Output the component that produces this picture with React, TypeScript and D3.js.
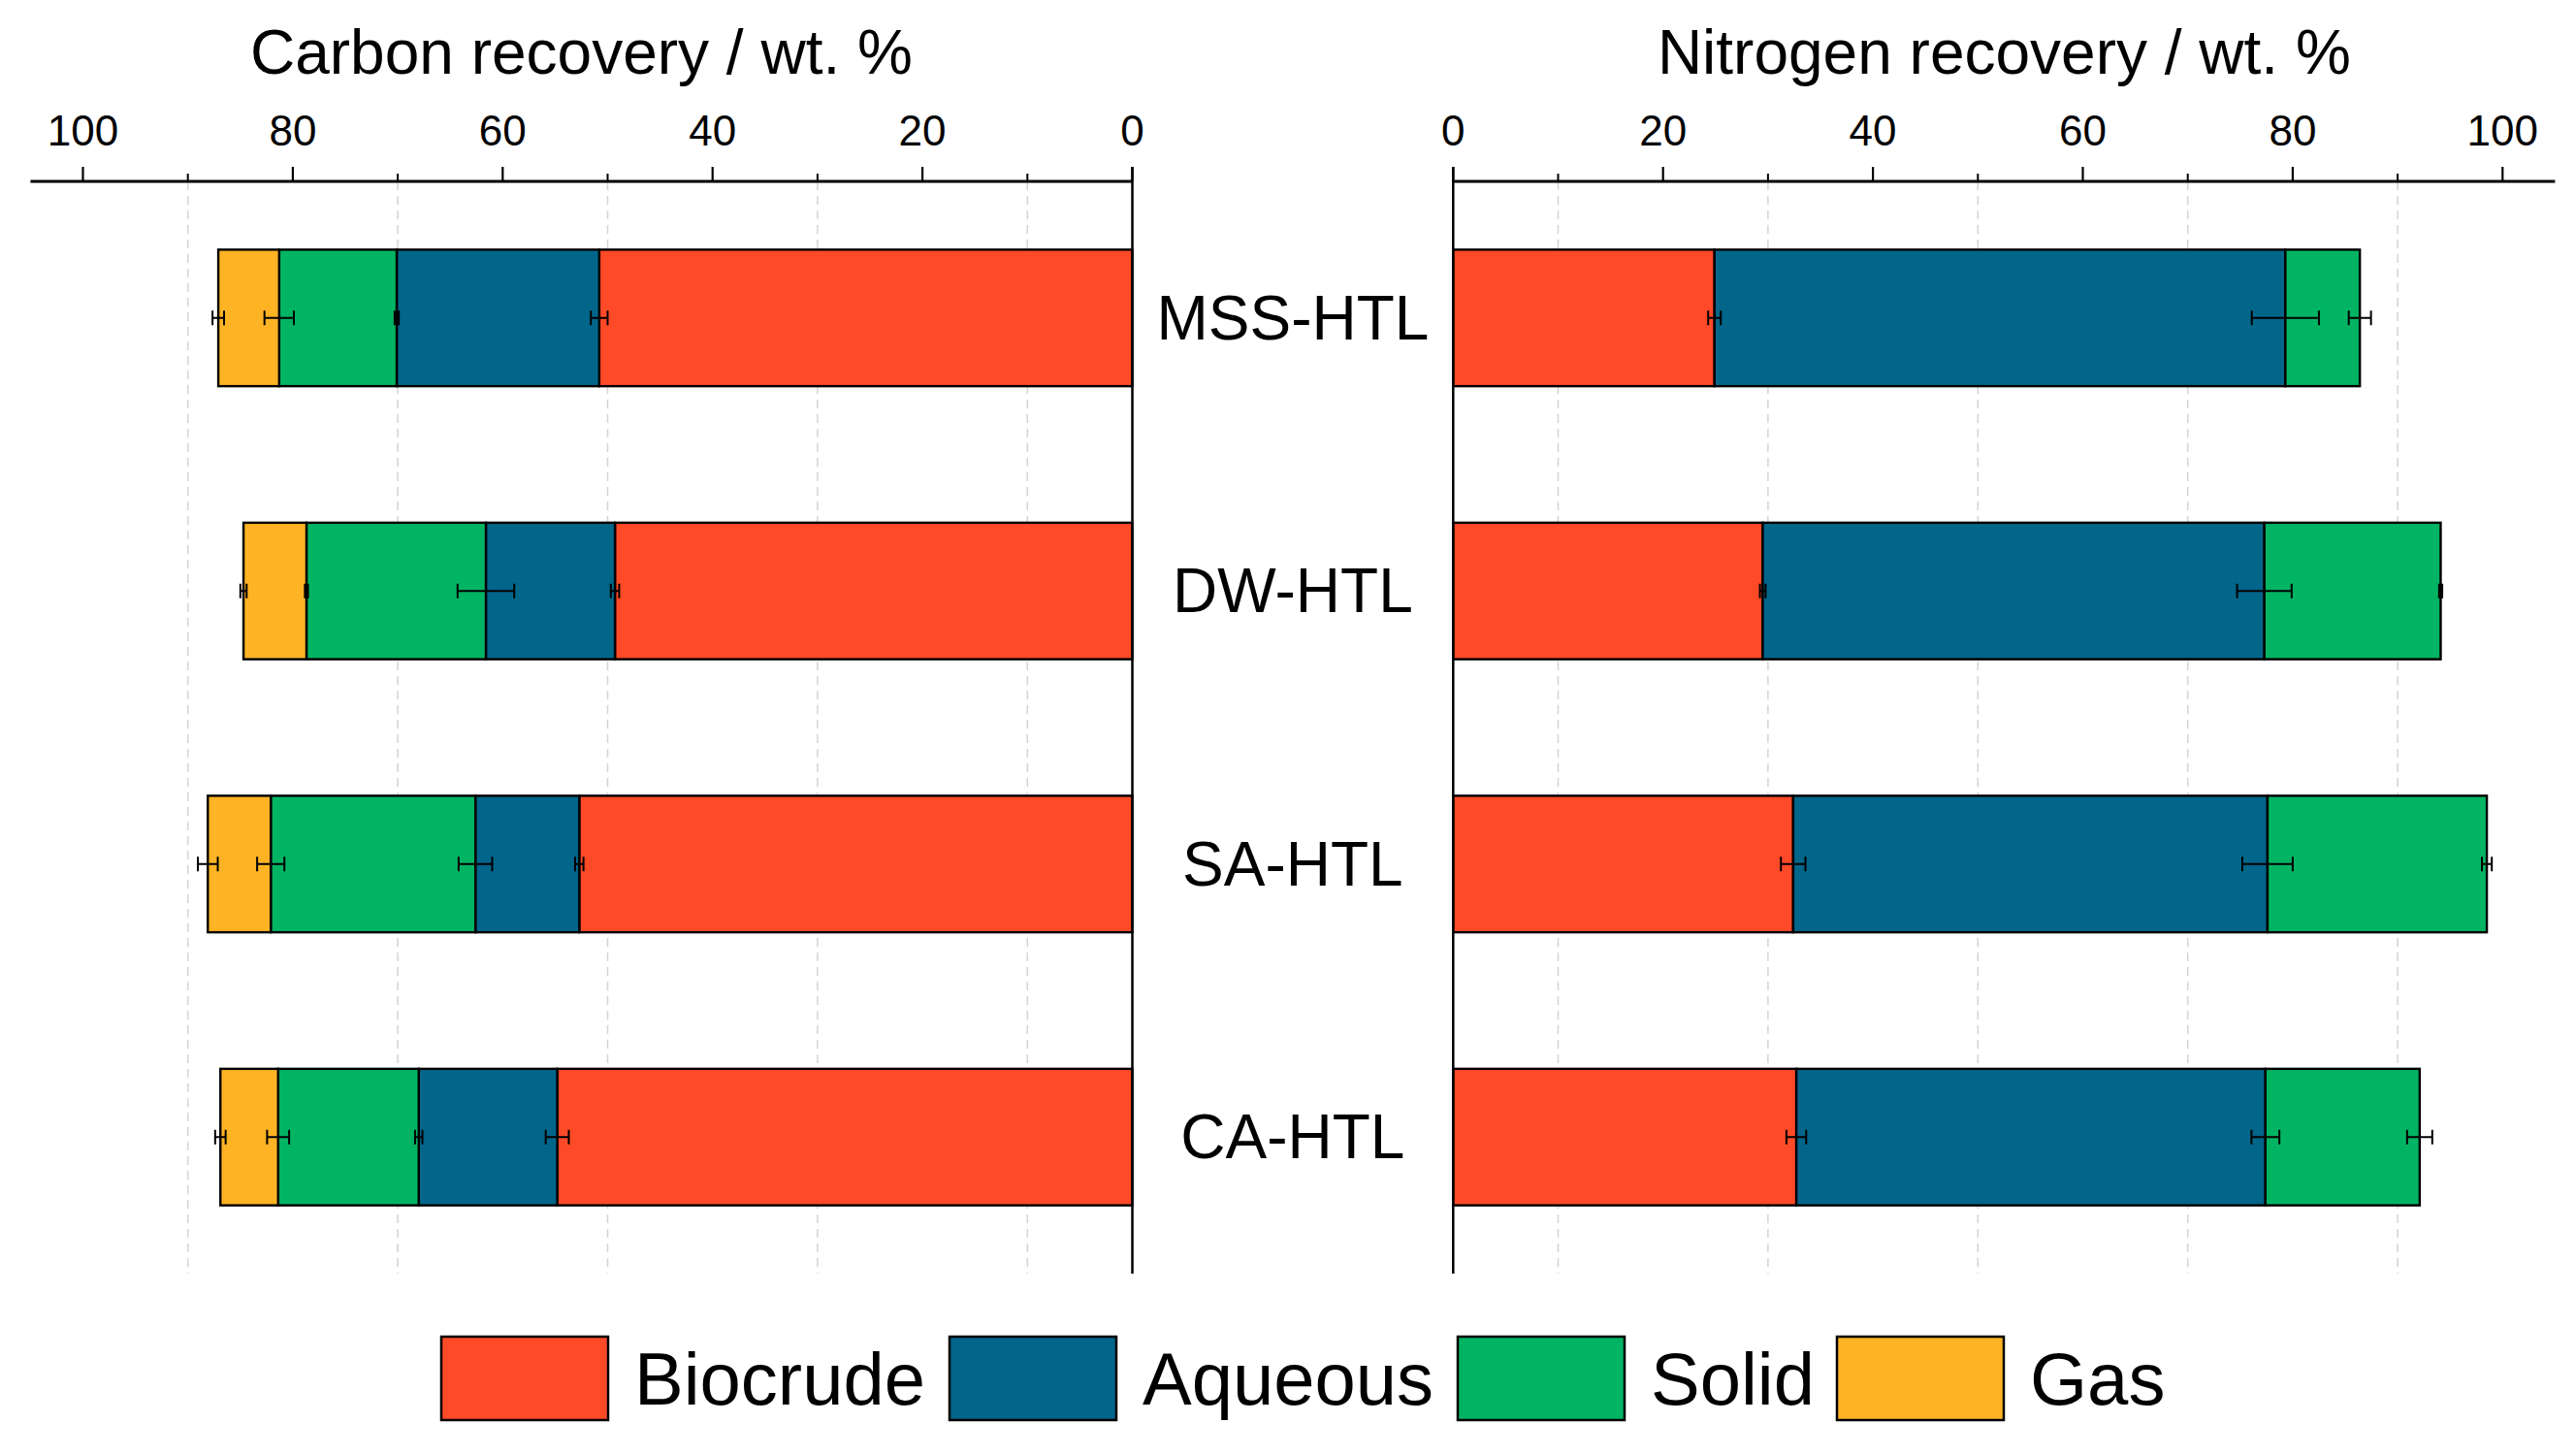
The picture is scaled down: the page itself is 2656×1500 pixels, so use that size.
import * as d3 from "d3";

const categories = ["MSS-HTL", "DW-HTL", "SA-HTL", "CA-HTL"];
const fractions = ["Biocrude", "Aqueous", "Solid", "Gas"];
const colors = ["#FF4A27", "#02658A", "#01B463", "#FEB324"];

// carbon recovery per fraction (wt. %)
const carbonBiocrude = [50.8, 49.3, 52.7, 54.8];
const carbonAqueous = [19.3, 12.3, 9.9, 13.2];
const carbonSolid = [11.2, 17.1, 19.5, 13.4];
const carbonGas = [5.8, 6.0, 6.0, 5.5];
const carbonErrBiocrude = [0.8, 0.4, 0.4, 1.1];
const carbonErrAqueous = [0.2, 2.7, 1.6, 0.35];
const carbonErrSolid = [1.4, 0.15, 1.3, 1.05];
const carbonErrGas = [0.55, 0.3, 0.95, 0.5];

// nitrogen recovery per fraction (wt. %)
const nitrogenBiocrude = [24.9, 29.5, 32.4, 32.7];
const nitrogenAqueous = [54.4, 47.8, 45.2, 44.7];
const nitrogenSolid = [7.1, 16.8, 20.9, 14.7];
const nitrogenErrBiocrude = [0.6, 0.27, 1.17, 0.94];
const nitrogenErrAqueous = [3.2, 2.6, 2.4, 1.33];
const nitrogenErrSolid = [1.06, 0.15, 0.47, 1.2];

const majorTicks = [0, 20, 40, 60, 80, 100];
const minorTicks = [10, 30, 50, 70, 90];

const W = 2656;
const H = 1500;
const FONT = "'Liberation Sans', Arial, sans-serif";
const axisY = 187;
const bottomY = 1313;

const y = d3.scaleBand<string>()
  .domain(categories)
  .range([axisY, bottomY])
  .paddingInner(0.5)
  .paddingOuter(0.25);

function Panel({ title, x, series, errors }: {
  title: string;
  x: d3.ScaleLinear<number, number>;
  series: number[][];
  errors: number[][];
}) {
  const rows = categories.map((c, i) => {
    const row: any = { cat: c };
    fractions.forEach((f, k) => { row[f] = series[k] ? series[k][i] : 0; });
    return row;
  });
  const keys = fractions.slice(0, series.length);
  const stacked = d3.stack<any>().keys(keys)(rows);
  const [r0, r1] = x.range();
  const left = Math.min(r0, r1);
  const right = Math.max(r0, r1);
  const bw = y.bandwidth();

  return (
    <g>
      {/* dashed grid at the minor ticks */}
      {minorTicks.map(t => (
        <line key={"g" + t} x1={x(t)} x2={x(t)} y1={axisY} y2={bottomY}
          stroke="#d4d4d4" strokeWidth={1.5} strokeDasharray="9,6" />
      ))}

      {stacked.map((layer, k) => (
        <g key={layer.key}>
          {layer.map((d, i) => (
            <rect key={i}
              x={Math.min(x(d[0]), x(d[1]))}
              width={Math.abs(x(d[1]) - x(d[0]))}
              y={y(categories[i])!}
              height={bw}
              fill={colors[k]} stroke="#000" strokeWidth={2.4} />
          ))}
        </g>
      ))}

      {/* error bars at each stack boundary */}
      {stacked.map((layer, k) => (
        <g key={"e" + layer.key}>
          {layer.map((d, i) => {
            const e = errors[k][i];
            const cy = y(categories[i])! + bw / 2;
            const xa = x(d[1] - e);
            const xb = x(d[1] + e);
            return (
              <g key={i} stroke="#000" strokeWidth={2}>
                <line x1={xa} x2={xb} y1={cy} y2={cy} />
                <line x1={xa} x2={xa} y1={cy - 7.5} y2={cy + 7.5} />
                <line x1={xb} x2={xb} y1={cy - 7.5} y2={cy + 7.5} />
              </g>
            );
          })}
        </g>
      ))}

      {/* top axis */}
      <line x1={left} x2={right} y1={axisY} y2={axisY} stroke="#000" strokeWidth={3} />
      <line x1={x(0)} x2={x(0)} y1={axisY - 15} y2={bottomY} stroke="#000" strokeWidth={2.5} />
      {majorTicks.map(t => (
        <g key={"t" + t}>
          <line x1={x(t)} x2={x(t)} y1={axisY - 15} y2={axisY} stroke="#000" strokeWidth={2.2} />
          <text x={x(t)} y={150} textAnchor="middle" fontFamily={FONT} fontSize={44}>{t}</text>
        </g>
      ))}
      {minorTicks.map(t => (
        <line key={"m" + t} x1={x(t)} x2={x(t)} y1={axisY - 8} y2={axisY} stroke="#000" strokeWidth={2} />
      ))}
      <text x={(left + right) / 2} y={76} textAnchor="middle" fontFamily={FONT} fontSize={64}>{title}</text>
    </g>
  );
}

function Legend() {
  const boxX = [455, 979, 1503, 1894];
  return (
    <g>
      {fractions.map((f, k) => (
        <g key={f}>
          <rect x={boxX[k]} y={1378} width={172} height={86} fill={colors[k]} stroke="#000" strokeWidth={2.5} />
          <text x={boxX[k] + 199} y={1448} fontFamily={FONT} fontSize={76}>{f}</text>
        </g>
      ))}
    </g>
  );
}

export default function App() {
  const xCarbon = d3.scaleLinear().domain([0, 105]).range([1167.5, 1167.5 - 105 * 10.82]);
  const xNitrogen = d3.scaleLinear().domain([0, 105]).range([1498.3, 1498.3 + 105 * 10.82]);

  return (
    <div style={{ position: "absolute", left: 0, top: 0 }}>
      <svg width={W} height={H} style={{ display: "block", background: "#fff" }}>
        <rect width={W} height={H} fill="#fff" />
        <Panel title="Carbon recovery / wt. %" x={xCarbon}
          series={[carbonBiocrude, carbonAqueous, carbonSolid, carbonGas]}
          errors={[carbonErrBiocrude, carbonErrAqueous, carbonErrSolid, carbonErrGas]} />
        <Panel title="Nitrogen recovery / wt. %" x={xNitrogen}
          series={[nitrogenBiocrude, nitrogenAqueous, nitrogenSolid]}
          errors={[nitrogenErrBiocrude, nitrogenErrAqueous, nitrogenErrSolid]} />
        {categories.map(c => (
          <text key={c} x={(1167.5 + 1498.3) / 2} y={y(c)! + y.bandwidth() / 2 + 22}
            textAnchor="middle" fontFamily={FONT} fontSize={64}>{c}</text>
        ))}
        <Legend />
      </svg>
    </div>
  );
}
